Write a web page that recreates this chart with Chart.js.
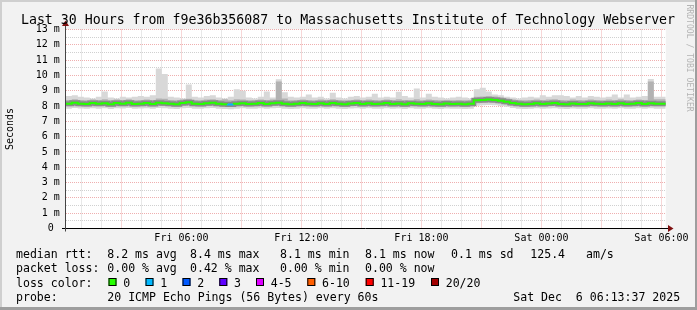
<!DOCTYPE html>
<html><head><meta charset="utf-8">
<script src="https://cdn.jsdelivr.net/npm/chart.js@4/dist/chart.umd.min.js"></script>
<style>html,body{margin:0;padding:0;background:#f2f2f2;overflow:hidden}canvas{display:block}</style>
</head><body><canvas id="c" width="697" height="310"></canvas>
<script>
// ---------- data ----------
const titleText = 'Last 30 Hours from f9e36b356087 to Massachusetts Institute of Technology Webserver';
const startHour = 13 / 60;   // Fri 00:13 (hours since Fri 00:00)
const stepHours = 0.3;       // 18 minutes per sample

const rttMedian = [
 8.20,8.15,8.22,8.15,8.13,8.20,8.15,8.18,8.12,8.20,
 8.15,8.22,8.13,8.15,8.20,8.14,8.22,8.18,8.15,8.12,
 8.20,8.25,8.15,8.13,8.18,8.22,8.15,8.12,8.10,8.15,
 8.18,8.13,8.15,8.20,8.14,8.18,8.22,8.15,8.12,8.15,
 8.20,8.15,8.13,8.18,8.14,8.20,8.15,8.12,8.16,8.20,
 8.14,8.18,8.13,8.15,8.20,8.14,8.16,8.12,8.18,8.15,
 8.13,8.18,8.14,8.12,8.17,8.13,8.15,8.12,8.15,8.38,
 8.40,8.42,8.40,8.35,8.28,8.20,8.15,8.12,8.14,8.18,
 8.13,8.16,8.20,8.14,8.12,8.17,8.14,8.13,8.18,8.15,
 8.13,8.17,8.14,8.19,8.13,8.15,8.20,8.14,8.18,8.15
];
const rttMin = [
 7.85,7.82,7.88,7.84,7.83,7.86,7.82,7.85,7.80,7.86,
 7.84,7.87,7.82,7.84,7.86,7.83,7.87,7.85,7.83,7.81,
 7.86,7.88,7.83,7.82,7.85,7.87,7.83,7.80,7.79,7.83,
 7.85,7.82,7.83,7.86,7.82,7.85,7.87,7.83,7.81,7.83,
 7.86,7.83,7.82,7.85,7.82,7.86,7.83,7.81,7.84,7.86,
 7.82,7.85,7.82,7.83,7.86,7.82,7.84,7.81,7.85,7.83,
 7.82,7.85,7.82,7.81,7.84,7.82,7.83,7.81,7.83,8.02,
 8.05,8.07,8.05,8.00,7.95,7.88,7.83,7.81,7.82,7.85,
 7.82,7.84,7.86,7.82,7.81,7.84,7.82,7.82,7.85,7.83,
 7.82,7.84,7.82,7.86,7.82,7.83,7.86,7.82,7.85,7.83
];
const rttLow = [
 8.00,7.98,8.02,7.98,7.97,8.00,7.98,8.00,7.96,8.00,
 7.98,8.02,7.97,7.98,8.00,7.97,8.02,8.00,7.98,7.96,
 8.00,8.03,7.98,7.97,8.00,8.02,7.98,7.95,7.94,7.98,
 8.00,7.97,7.98,8.00,7.97,8.00,8.02,7.98,7.96,7.98,
 8.00,7.98,7.97,8.00,7.97,8.00,7.98,7.96,7.98,8.00,
 7.97,8.00,7.97,7.98,8.00,7.97,7.98,7.96,8.00,7.98,
 7.97,8.00,7.97,7.96,7.99,7.97,7.98,7.96,7.98,8.18,
 8.20,8.22,8.20,8.16,8.10,8.02,7.98,7.96,7.97,8.00,
 7.97,7.98,8.00,7.97,7.96,7.99,7.97,7.97,8.00,7.98,
 7.97,7.99,7.97,8.00,7.97,7.98,8.00,7.97,8.00,7.98
];
const rttHigh = [
 8.42,8.40,8.45,8.40,8.38,8.42,8.40,8.45,8.38,8.42,
 8.40,8.45,8.38,8.40,8.42,8.40,8.50,8.48,8.40,8.38,
 8.42,8.48,8.40,8.38,8.42,8.45,8.40,8.45,8.38,8.45,
 8.42,8.38,8.40,8.42,8.40,8.42,9.60,8.50,8.38,8.40,
 8.42,8.40,8.38,8.42,8.40,8.45,8.40,8.38,8.40,8.42,
 8.38,8.42,8.40,8.38,8.42,8.40,8.45,8.40,8.38,8.45,
 8.38,8.42,8.40,8.38,8.40,8.38,8.40,8.38,8.40,8.60,
 8.62,8.65,8.62,8.58,8.50,8.42,8.40,8.38,8.40,8.42,
 8.40,8.42,8.45,8.40,8.38,8.42,8.40,8.38,8.42,8.40,
 8.38,8.42,8.40,8.45,8.40,8.38,8.42,8.40,9.60,8.45
];
const rttMax = [
 8.55,8.65,8.70,8.60,8.55,8.50,8.60,8.95,8.55,8.50,
 8.60,8.55,8.60,8.65,8.60,8.70,10.45,10.10,8.60,8.55,
 8.50,9.40,8.60,8.55,8.65,8.70,8.55,8.50,8.60,9.10,
 9.00,8.55,8.50,8.60,8.95,8.55,9.75,8.90,8.60,8.55,
 8.60,8.75,8.55,8.60,8.50,8.87,8.55,8.50,8.60,8.65,
 8.55,8.60,8.80,8.55,8.60,8.55,8.93,8.65,8.55,9.15,
 8.55,8.80,8.60,8.55,8.50,8.55,8.60,8.55,8.50,9.10,
 9.20,8.95,8.75,8.70,8.60,8.55,8.50,8.55,8.60,8.55,
 8.70,8.60,8.70,8.70,8.65,8.55,8.65,8.55,8.65,8.60,
 8.55,8.60,8.75,8.55,8.75,8.55,8.60,8.65,9.77,8.60
];
const lossCount = [
 0,0,0,0,0,0,0,0,0,0, 0,0,0,0,0,0,0,0,0,0,
 0,0,0,0,0,0,0,1,0,0, 0,0,0,0,0,0,0,0,0,0,
 0,0,0,0,0,0,0,0,0,0, 0,0,0,0,0,0,0,0,0,0,
 0,0,0,0,0,0,0,0,0,0, 0,0,0,0,0,0,0,0,0,0,
 0,0,0,0,0,0,0,0,0,0, 0,0,0,0,0,0,0,0,0,0
];
const xTickHours = [6, 12, 18, 24, 30];
const xTickLabels = ['Fri 06:00', 'Fri 12:00', 'Fri 18:00', 'Sat 00:00', 'Sat 06:00'];
const yUnit = ' m';
const lossLabels = ['0', '1', '2', '3', '4-5', '6-10', '11-19', '20/20'];
const lossUpper = [0, 1, 2, 3, 5, 10, 19, 20];
const lossColors = ['#26ff00', '#00b8ff', '#0059ff', '#5e00ff', '#dd00ff', '#ff5e00', '#ff0000', '#a10000'];
const rttStats = ['8.2 ms avg', '8.4 ms max', '8.1 ms min', '8.1 ms now', '0.1 ms sd', '125.4', 'am/s'];
const lossStats = ['0.00 % avg', '0.42 % max', '0.00 % min', '0.00 % now'];
const probeText = '20 ICMP Echo Pings (56 Bytes) every 60s';
const dateText = 'Sat Dec  6 06:13:37 2025';

// ---------- helpers ----------
const MONO = '"DejaVu Sans Mono", "Liberation Mono", monospace';
const pts = arr => arr.map((v, i) => ({x: startHour + i * stepHours, y: v}))
  .concat([{x: startHour + arr.length * stepHours, y: arr[arr.length - 1]}]);
const lossColor = n => { for (let k = 0; k < lossUpper.length; k++) if (n <= lossUpper[k]) return lossColors[k]; return lossColors[lossColors.length - 1]; };
const majorGrid = 'rgba(225,110,110,0.55)';
const minorGrid = 'rgba(150,150,150,0.45)';

const band = (data, fill, color, order) => ({
  data: pts(data), stepped: 'after', pointRadius: 0, borderWidth: 0,
  borderColor: 'rgba(0,0,0,0)', backgroundColor: color, fill: fill, order: order
});

const deco = {
  id: 'deco',
  beforeDraw(chart) {
    const {ctx, chartArea: a} = chart;
    ctx.save();
    ctx.fillStyle = '#f2f2f2'; ctx.fillRect(0, 0, 697, 310);
    ctx.fillStyle = '#cfcfcf'; ctx.fillRect(0, 0, 697, 2); ctx.fillRect(0, 0, 2, 310);
    ctx.fillStyle = '#9e9e9e'; ctx.fillRect(0, 307, 697, 3); ctx.fillRect(695, 0, 2, 310);
    ctx.fillStyle = '#ffffff'; ctx.fillRect(a.left, a.top, a.right - a.left, a.bottom - a.top);
    ctx.restore();
  },
  afterDraw(chart) {
    const {ctx, chartArea: a} = chart;
    const ys = chart.scales.y;
    ctx.save();
    // axes
    const y0 = Math.round(ys.getPixelForValue(0) - 0.5) + 0.5;
    const xl = Math.round(a.left - 0.5) + 0.5;
    ctx.lineWidth = 1;
    ctx.strokeStyle = '#000';
    ctx.beginPath(); ctx.moveTo(62, y0); ctx.lineTo(669, y0); ctx.stroke();
    ctx.strokeStyle = '#444';
    ctx.beginPath(); ctx.moveTo(xl, y0 + 3); ctx.lineTo(xl, 25); ctx.stroke();
    ctx.fillStyle = '#7f1010';
    ctx.beginPath(); ctx.moveTo(xl, 20.5); ctx.lineTo(xl - 3.5, 26); ctx.lineTo(xl + 3.5, 26); ctx.closePath(); ctx.fill();
    ctx.beginPath(); ctx.moveTo(673.5, y0); ctx.lineTo(668, y0 - 3.5); ctx.lineTo(668, y0 + 3.5); ctx.closePath(); ctx.fill();
    // title
    ctx.fillStyle = '#000';
    ctx.textBaseline = 'alphabetic';
    ctx.font = '13.25px ' + MONO;
    ctx.textAlign = 'center';
    ctx.fillText(titleText, 348, 23.5);
    // legend
    ctx.textAlign = 'left';
    ctx.font = '11.55px ' + MONO;
    const r1 = 257.5, r2 = 272, r3 = 286.5, r4 = 300.5;
    ctx.fillText('median rtt:', 16, r1);
    const rx = [107.3, 190, 280, 365, 451, 530.3, 586];
    rttStats.forEach((t, i) => ctx.fillText(t, rx[i], r1));
    ctx.fillText('packet loss:', 16, r2);
    lossStats.forEach((t, i) => ctx.fillText(t, rx[i], r2));
    ctx.fillText('loss color:', 16, r3);
    const bx = [108.5, 145.5, 182.5, 219.3, 256, 307.3, 365.7, 431];
    lossLabels.forEach((t, i) => {
      ctx.fillStyle = lossColors[i];
      ctx.fillRect(bx[i], r3 - 8.5, 8, 8);
      ctx.strokeStyle = '#000';
      ctx.strokeRect(bx[i] + 0.5, r3 - 8, 7, 7);
      ctx.fillStyle = '#000';
      ctx.fillText(t, bx[i] + 14.7, r3);
    });
    ctx.fillText('probe:', 16, r4);
    ctx.fillText(probeText, 107.3, r4);
    ctx.fillText(dateText, 513.3, r4);
    // credit
    ctx.translate(689.5, 4.5);
    ctx.rotate(Math.PI / 2);
    ctx.font = '8.1px ' + MONO;
    ctx.fillStyle = '#b4b4b4';
    ctx.textBaseline = 'middle';
    ctx.fillText('RRDTOOL / TOBI OETIKER', 0, 0);
    ctx.restore();
  }
};

new Chart(document.getElementById('c'), {
  type: 'line',
  data: {
    datasets: [
      band(rttMin, false, 'rgba(0,0,0,0)', 4),
      band(rttMax, '-1', '#d8d8d8', 4),
      band(rttLow, false, 'rgba(0,0,0,0)', 2),
      band(rttHigh, '-1', '#b2b2b2', 2),
      {
        data: pts(rttMedian), stepped: 'after', pointRadius: 0, borderWidth: 5, fill: false, order: 1,
        borderColor: '#8a8a8a'
      },
      {
        data: pts(rttMedian), stepped: 'after', pointRadius: 0, borderWidth: 2, fill: false, order: 0,
        borderColor: lossColors[0],
        segment: { borderColor: c => lossColor(lossCount[Math.min(c.p0DataIndex, lossCount.length - 1)]) }
      }
    ]
  },
  options: {
    responsive: false, animation: false, devicePixelRatio: 1,
    layout: { padding: { top: 29.5, right: 31.2, bottom: 61.5, left: 0 } },
    plugins: { legend: { display: false }, tooltip: { enabled: false }, title: { display: false } },
    scales: {
      x: {
        type: 'linear', min: startHour, max: startHour + rttMedian.length * stepHours,
        afterBuildTicks: s => { const t = []; for (let h = Math.ceil(s.min); h <= s.max; h++) t.push({value: h}); s.ticks = t; },
        afterFit: s => { s.height = 20; },
        ticks: {
          autoSkip: false, maxRotation: 0, padding: 4, color: '#000',
          font: { family: MONO, size: 10 },
          callback: v => { const k = xTickHours.indexOf(v); return k >= 0 ? xTickLabels[k] : ''; }
        },
        grid: { drawTicks: false, lineWidth: 1, color: c => (c.tick && c.tick.value % 3 === 0) ? majorGrid : minorGrid },
        border: { display: false, dash: [1, 1] }
      },
      y: {
        min: 0, max: 13,
        afterBuildTicks: s => { const t = []; for (let v = 0; v <= 26; v++) t.push({value: v / 2}); s.ticks = t; },
        afterFit: s => { s.width = 65.8; },
        ticks: {
          autoSkip: false, padding: 6, color: '#000',
          font: { family: MONO, size: 10 },
          callback: v => Number.isInteger(v) ? (v === 0 ? '0 ' : v + yUnit) : ''
        },
        grid: { drawTicks: false, lineWidth: 1, color: c => (c.tick && Number.isInteger(c.tick.value)) ? majorGrid : minorGrid },
        border: { display: false, dash: [1, 1] },
        title: { display: true, text: 'Seconds', color: '#000', font: { family: MONO, size: 10 }, padding: { top: 4, bottom: 4 } }
      }
    }
  },
  plugins: [deco]
});
</script>
</body></html>
